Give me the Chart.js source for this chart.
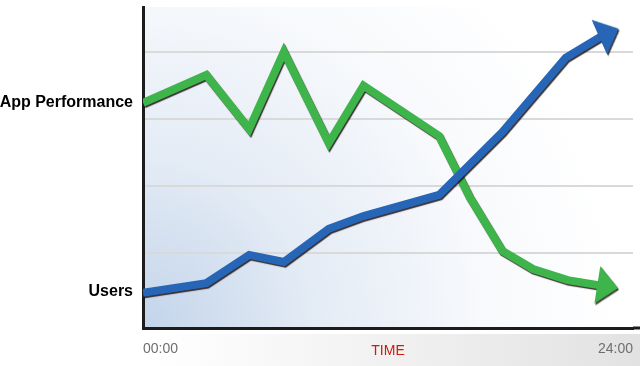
<!DOCTYPE html>
<html>
<head>
<meta charset="utf-8">
<script src="https://cdn.jsdelivr.net/npm/chart.js@4.4.1/dist/chart.umd.min.js"></script>
<style>
  html, body { margin: 0; padding: 0; background: #ffffff; }
  #wrap { width: 640px; height: 366px; position: relative; }
</style>
</head>
<body>
<div id="wrap"><canvas id="c"></canvas></div>
<script>
// ---- data ----
const perfHours  = [0, 3.1, 5.2, 6.9, 9.1, 10.8, 14.5, 16.0, 17.6, 19.1, 20.8, 22.3];
const perfValues = [64.8, 73.1, 57.0, 80.0, 52.8, 69.9, 54.9, 36.7, 20.6, 15.2, 11.9, 10.4];
const userHours  = [0, 3.1, 5.2, 6.9, 9.1, 10.8, 14.5, 17.6, 20.7, 22.4];
const userValues = [8.1, 11.0, 19.4, 17.3, 27.2, 31.0, 37.3, 56.1, 78.2, 84.5];
const xTickValues = [0, 24];
const xTickLabels = ['00:00', '24:00'];
const xTitle = 'TIME';
const gridValues = [20, 40, 60, 80];
const seriesLabelValues = [64.9, 8.4];
const seriesLabels = ['App Performance', 'Users'];

const FONT = "'Liberation Sans', Arial, Helvetica, sans-serif";

function arrowHead(color, depth, base) {
  const c = document.createElement('canvas');
  c.width = depth * 2;
  c.height = base + 2;
  const g = c.getContext('2d');
  g.fillStyle = color;
  g.beginPath();
  g.moveTo(depth - 1, 1);
  g.lineTo(depth * 2, c.height / 2);
  g.lineTo(depth - 1, base + 1);
  g.closePath();
  g.fill();
  return c;
}

const GREEN = '#3db54a';
const BLUE = '#2766b6';

const decor = {
  id: 'decor',
  beforeDraw(chart) {
    const { ctx, chartArea: a, width, height } = chart;
    ctx.save();
    // bottom band
    const bg = ctx.createLinearGradient(150, 0, width, 0);
    bg.addColorStop(0, '#ffffff');
    bg.addColorStop(1, '#e2e2e2');
    ctx.fillStyle = bg;
    ctx.fillRect(0, a.bottom + 6, width, height - (a.bottom + 6));
    // plot background
    const pg = ctx.createRadialGradient(a.left, a.bottom, 0, a.left, a.bottom, 480);
    pg.addColorStop(0, '#c3d4ea');
    pg.addColorStop(0.35, '#e3ebf5');
    pg.addColorStop(0.7, '#f7f9fc');
    pg.addColorStop(1, '#ffffff');
    ctx.fillStyle = pg;
    ctx.fillRect(a.left, a.top, a.right - a.left, a.bottom - a.top);
    // bottom border continues to the edge
    ctx.fillStyle = '#1c1c1c';
    ctx.fillRect(a.right, a.bottom - 1.5, width - a.right, 3);
    ctx.restore();
  },
  beforeDatasetDraw(chart) {
    const ctx = chart.ctx;
    ctx.save();
    ctx.shadowColor = 'rgba(25,10,10,0.85)';
    ctx.shadowBlur = 1;
    ctx.shadowOffsetX = 1;
    ctx.shadowOffsetY = 1.5;
  },
  afterDatasetDraw(chart) {
    chart.ctx.restore();
  }
};

const lastRadius = ctx => (ctx.dataIndex === ctx.dataset.data.length - 1 ? 10 : 0);

new Chart(document.getElementById('c'), {
  type: 'line',
  data: {
    datasets: [
      {
        label: seriesLabels[1],
        data: userHours.map((h, i) => ({ x: h, y: userValues[i] })),
        borderColor: BLUE,
        borderWidth: 8,
        borderJoinStyle: 'miter',
        borderCapStyle: 'butt',
        fill: false,
        tension: 0,
        order: 0,
        pointStyle: arrowHead(BLUE, 20, 38),
        pointRotation: -24,
        pointRadius: lastRadius,
        pointHoverRadius: lastRadius
      },
      {
        label: seriesLabels[0],
        data: perfHours.map((h, i) => ({ x: h, y: perfValues[i] })),
        borderColor: GREEN,
        borderWidth: 8,
        borderJoinStyle: 'miter',
        borderCapStyle: 'butt',
        fill: false,
        tension: 0,
        order: 1,
        pointStyle: arrowHead(GREEN, 20, 38),
        pointRotation: 9,
        pointRadius: lastRadius,
        pointHoverRadius: lastRadius
      }
    ]
  },
  options: {
    responsive: true,
    maintainAspectRatio: false,
    animation: false,
    events: [],
    layout: { autoPadding: false, padding: { left: 0, top: 7, right: 7, bottom: 0 } },
    plugins: { legend: { display: false }, tooltip: { enabled: false } },
    scales: {
      x: {
        type: 'linear',
        min: 0,
        max: 24,
        afterBuildTicks: s => { s.ticks = xTickValues.map(v => ({ value: v })); },
        afterFit: s => { s.height = 38; s.paddingLeft = 0; s.paddingRight = 0; },
        grid: { display: false, drawTicks: false },
        border: { display: true, color: '#1c1c1c', width: 3 },
        ticks: {
          align: 'inner',
          autoSkip: false,
          maxRotation: 0,
          padding: 13,
          color: '#6e6e6e',
          font: { family: FONT, size: 14 },
          callback: (v, i) => xTickLabels[i]
        },
        title: {
          display: true,
          text: xTitle,
          color: '#d01a0a',
          font: { family: FONT, size: 14 },
          padding: { top: 0, bottom: 6.8 }
        }
      },
      y: {
        type: 'linear',
        min: -2.4,
        max: 93.4,
        afterBuildTicks: s => { s.ticks = gridValues.concat(seriesLabelValues).map(v => ({ value: v })); },
        afterFit: s => { s.width = 143; s.paddingTop = 0; s.paddingBottom = 0; },
        grid: {
          drawTicks: false,
          lineWidth: 2,
          color: ctx => (ctx.tick && gridValues.includes(ctx.tick.value)) ? '#d9d9d9' : 'rgba(0,0,0,0)'
        },
        border: { display: true, color: '#1c1c1c', width: 3 },
        ticks: {
          autoSkip: false,
          padding: 10,
          color: '#000000',
          font: { family: FONT, size: 16, weight: 'bold' },
          callback: v => {
            const i = seriesLabelValues.indexOf(v);
            return i >= 0 ? seriesLabels[i] : '';
          }
        }
      }
    }
  },
  plugins: [decor]
});
</script>
</body>
</html>
